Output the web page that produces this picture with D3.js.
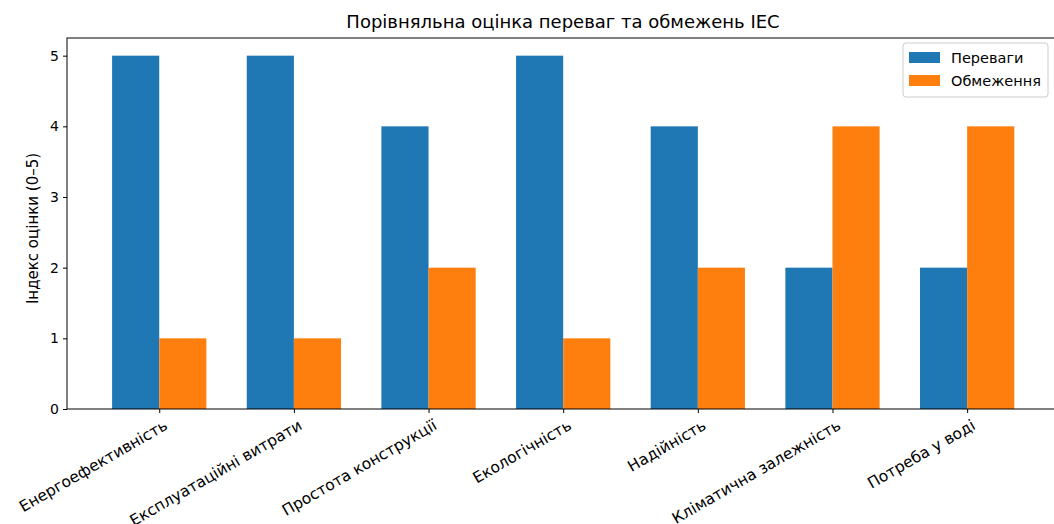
<!DOCTYPE html>
<html>
<head>
<meta charset="utf-8">
<script src="https://cdn.jsdelivr.net/npm/d3@7"></script>
<style>
  html, body { margin: 0; padding: 0; background: #fff; overflow: hidden; }
  text { font-family: "DejaVu Sans", sans-serif; fill: #000; }
</style>
</head>
<body>
<div id="chart"></div>
<script>
// categories and scores
const categories = [
  'Енергоефективність',
  'Експлуатаційні витрати',
  'Простота конструкції',
  'Екологічність',
  'Надійність',
  'Кліматична залежність',
  'Потреба у воді'
];
const advantages = [5, 5, 4, 5, 4, 2, 2];
const limitations = [1, 1, 2, 1, 2, 4, 4];
const yTicks = [0, 1, 2, 3, 4, 5];
const seriesNames = ['Переваги', 'Обмеження'];
const seriesColors = ['#1f77b4', '#ff7f0e'];

(function() {
  'use strict';

  const W = 1054, H = 524;
  const left = 67, top = 38, bottom = 409;
  const barW = 0.35;

  const svg = d3.select('#chart').append('svg')
    .attr('width', W).attr('height', H);

  // x scale in category units, like matplotlib with 5% margins
  const n = categories.length;
  const x = d3.scaleLinear()
    .domain([-0.685, n - 1 + 0.685])
    .range([left, left + (n - 1 + 1.37) * 134.65]);
  const y = d3.scaleLinear().domain([0, 5.25]).range([bottom, top]);

  const series = [advantages, limitations];
  series.forEach((vals, s) => {
    const off = s === 0 ? -barW : 0;
    svg.append('g').selectAll('rect')
      .data(vals)
      .enter().append('rect')
      .attr('x', (d, i) => x(i + off))
      .attr('y', d => y(d))
      .attr('width', (d, i) => x(i + off + barW) - x(i + off))
      .attr('height', d => y(0) - y(d))
      .attr('fill', seriesColors[s]);
  });

  // frame
  svg.append('rect')
    .attr('x', x.range()[0]).attr('y', top)
    .attr('width', x.range()[1] - x.range()[0]).attr('height', bottom - top)
    .attr('fill', 'none').attr('stroke', '#000').attr('stroke-width', 1);

  // y axis
  const yAxis = svg.append('g')
    .attr('transform', `translate(${left},0)`)
    .call(d3.axisLeft(y).tickValues(yTicks).tickSize(4).tickPadding(4).tickFormat(d3.format('d')));
  yAxis.select('.domain').remove();
  yAxis.selectAll('text').attr('font-size', '14px').attr('fill', '#000');
  yAxis.selectAll('line').attr('stroke', '#000');

  // x axis
  const xAxis = svg.append('g')
    .attr('transform', `translate(0,${bottom})`)
    .call(d3.axisBottom(x).tickValues(d3.range(n)).tickSize(4).tickFormat(i => categories[i]));
  xAxis.select('.domain').remove();
  xAxis.selectAll('line').attr('stroke', '#000');
  xAxis.selectAll('text')
    .attr('font-size', '15.5px')
    .attr('fill', '#000')
    .attr('text-anchor', 'end')
    .attr('dy', '0.7em')
    .attr('transform', 'translate(0,4) rotate(-30)');

  // title
  svg.append('text')
    .attr('x', 563).attr('y', 28)
    .attr('text-anchor', 'middle')
    .attr('font-size', '18px')
    .text('Порівняльна оцінка переваг та обмежень ІЕС');

  // y label
  svg.append('text')
    .attr('transform', `translate(38,${(top + bottom) / 2 + 5}) rotate(-90)`)
    .attr('text-anchor', 'middle')
    .attr('font-size', '15px')
    .text('Індекс оцінки (0–5)');

  // legend
  const lg = svg.append('g').attr('transform', 'translate(903,43)');
  lg.append('rect')
    .attr('width', 145).attr('height', 54).attr('rx', 3)
    .attr('fill', '#fff').attr('fill-opacity', 0.8)
    .attr('stroke', '#ccc');
  seriesNames.forEach((name, i) => {
    lg.append('rect')
      .attr('x', 6).attr('y', 9 + i * 23)
      .attr('width', 31).attr('height', 11)
      .attr('fill', seriesColors[i]);
    lg.append('text')
      .attr('x', 48).attr('y', 20 + i * 23)
      .attr('font-size', '14.5px')
      .text(name);
  });
})();
</script>
</body>
</html>
